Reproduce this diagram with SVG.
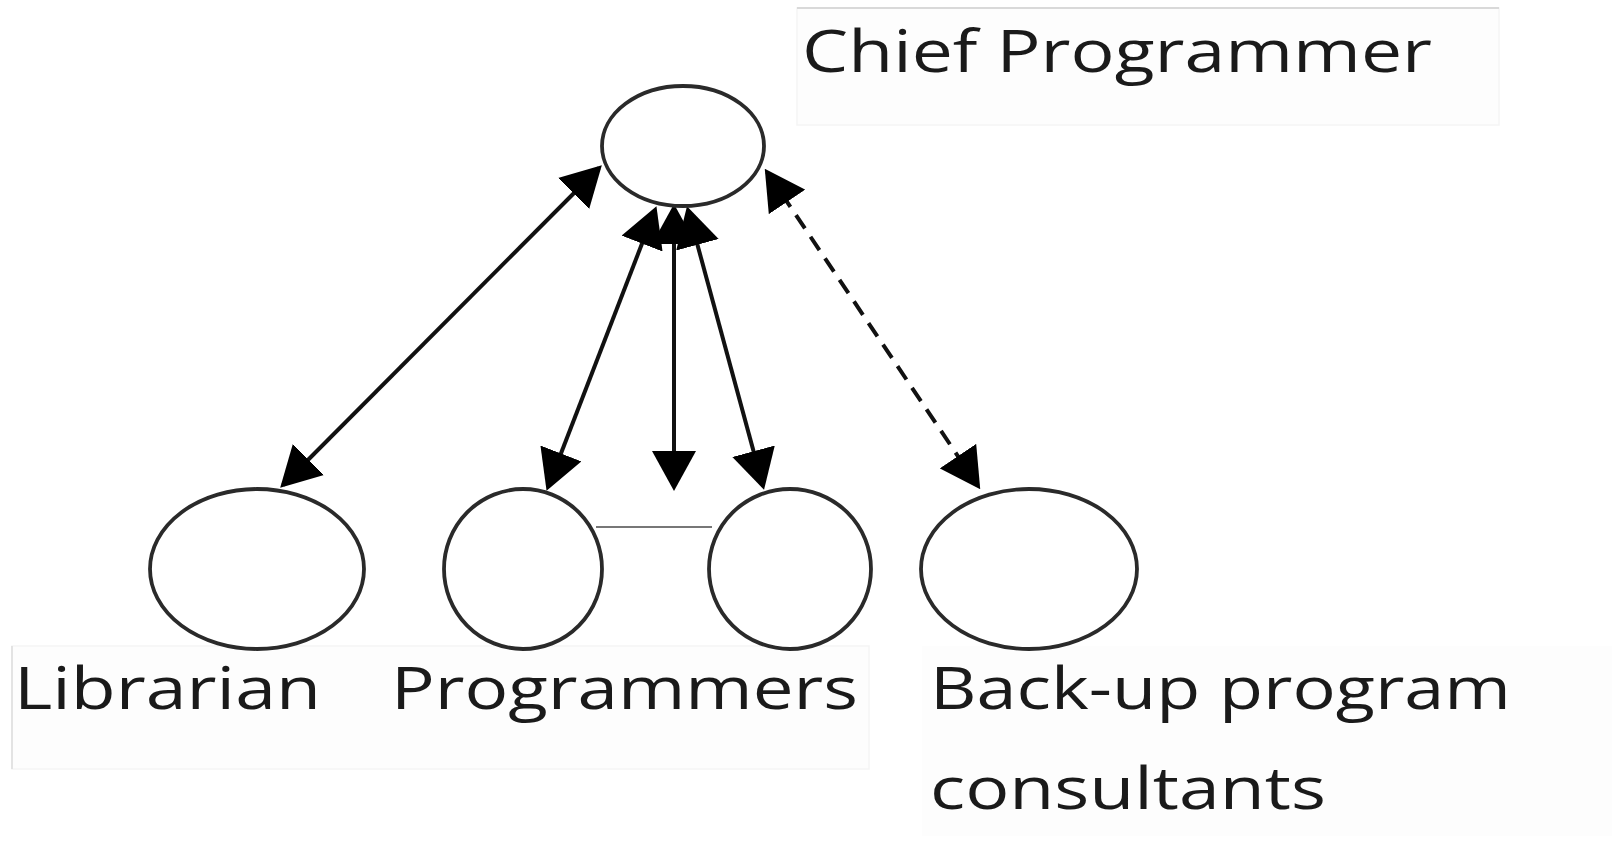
<svg xmlns="http://www.w3.org/2000/svg" width="1612" height="847" viewBox="0 0 1612 847">
  <style>
    .node { fill: #ffffff; stroke: #2a2a2a; stroke-width: 3.8; }
    .label { font-family: "Open Sans", "DejaVu Sans", sans-serif; font-size: 58px; fill: #1a1a1a; }
    .link { stroke: #111111; stroke-width: 4; fill: none; }
    .dashed { stroke-dasharray: 16 10; }
    .tie { stroke: #777777; stroke-width: 2; fill: none; }
    .box { fill: #fdfdfd; stroke: #f5f5f5; stroke-width: 1.5; }
  </style>
  <defs>
    <marker id="head" markerUnits="userSpaceOnUse" markerWidth="40" markerHeight="44" viewBox="0 0 40 44" refX="36" refY="22" orient="auto-start-reverse">
      <path d="M0,0 L40,22 L0,44 z" fill="#000000"/>
    </marker>
  </defs>

  <rect width="1612" height="847" fill="#ffffff"/>

  <!-- label backgrounds -->
  <rect class="box" x="797" y="8" width="702" height="117"/>
  <line x1="797" y1="8" x2="1499" y2="8" stroke="#cfcfcf" stroke-width="1.5"/>
  <rect class="box" x="12" y="646" width="857" height="123"/>
  <line x1="12" y1="646" x2="12" y2="769" stroke="#dddddd" stroke-width="1.5"/>
  <rect x="922" y="646" width="690" height="190" fill="#fdfdfd"/>

  <!-- connectors -->
  <g id="connectors">
    <line class="link" x1="599" y1="168" x2="283" y2="485" marker-start="url(#head)" marker-end="url(#head)"/>
    <line class="link" x1="655" y1="210" x2="548" y2="487" marker-start="url(#head)" marker-end="url(#head)"/>
    <line class="link" x1="674" y1="208" x2="674" y2="487" marker-start="url(#head)" marker-end="url(#head)"/>
    <line class="link" x1="688" y1="210" x2="763" y2="486" marker-start="url(#head)" marker-end="url(#head)"/>
    <line class="link dashed" x1="767" y1="172" x2="978" y2="486" marker-start="url(#head)" marker-end="url(#head)"/>
    <line class="tie" x1="596" y1="527" x2="712" y2="527"/>
  </g>

  <g id="chief">
    <ellipse class="node" cx="683" cy="146" rx="81" ry="60"/>
    <text class="label" x="802" y="72" textLength="630" lengthAdjust="spacingAndGlyphs">Chief Programmer</text>
  </g>

  <g id="librarian">
    <ellipse class="node" cx="257" cy="569" rx="107" ry="80"/>
    <text class="label" x="14" y="709" textLength="307" lengthAdjust="spacingAndGlyphs">Librarian</text>
  </g>

  <g id="programmers">
    <ellipse class="node" cx="523" cy="569" rx="79" ry="80"/>
    <ellipse class="node" cx="790" cy="569" rx="81" ry="80"/>
    <text class="label" x="391" y="709" textLength="467" lengthAdjust="spacingAndGlyphs">Programmers</text>
  </g>

  <g id="backup">
    <ellipse class="node" cx="1029" cy="569" rx="108" ry="80"/>
    <text class="label" x="930" y="709" textLength="581" lengthAdjust="spacingAndGlyphs">Back-up program</text>
    <text class="label" x="930" y="809" textLength="396" lengthAdjust="spacingAndGlyphs">consultants</text>
  </g>
</svg>
